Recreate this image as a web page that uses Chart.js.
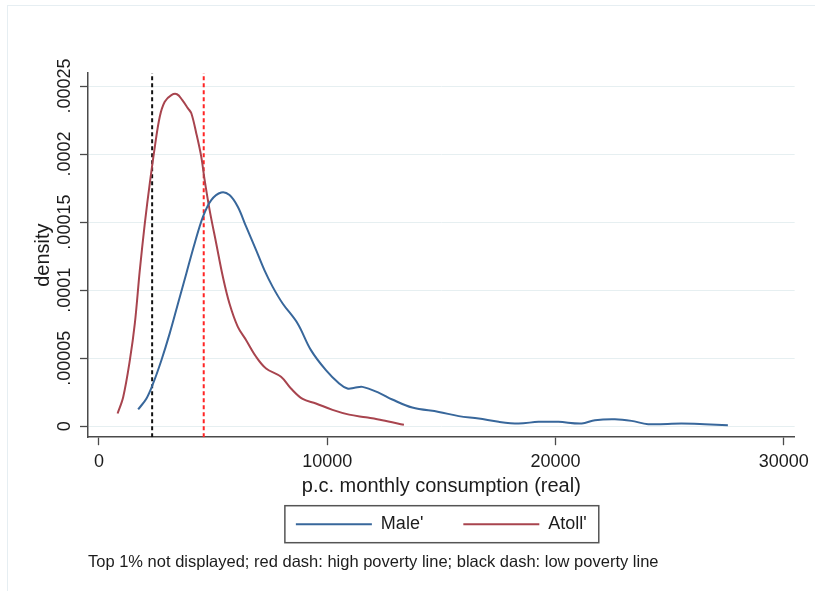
<!DOCTYPE html>
<html lang="en">
<head>
<meta charset="UTF-8">
<title>Densidad del consumo mensual</title>
<script src="https://cdn.jsdelivr.net/npm/chart.js"></script>
<style>
  body { margin: 0; background: #fff; }
  canvas { display: block; }
</style>
</head>
<body>
<canvas id="densidad" width="815" height="591"></canvas>
<script>
// ticks (Stata style labels)
const xTicks = [0, 10000, 20000, 30000];
const yTicks = [0, 0.00005, 0.0001, 0.00015, 0.0002, 0.00025];
const yTickLabels = ['0', '.00005', '.0001', '.00015', '.0002', '.00025'];

// kernel density - Male'
const maleX = [1718, 2082, 2373, 2736, 3100, 3463, 3828, 4192, 4555, 4920, 5358, 5721, 6083, 6449, 6886,
  7249, 7612, 8048, 8703, 9288, 9943, 10524, 10887, 11200, 11541, 12271, 12852, 13726, 14891, 15764,
  16638, 17511, 18384, 19258, 20131, 21150, 21733, 22606, 23333, 24061, 25516, 26536, 27555];
const maleY = [0.0000123, 0.0000204, 0.0000314, 0.0000485, 0.0000682, 0.0000902, 0.0001123, 0.0001343,
  0.0001539, 0.0001662, 0.0001718, 0.0001699, 0.0001613, 0.0001466, 0.0001294, 0.0001147, 0.0001024,
  0.0000902, 0.0000755, 0.0000559, 0.0000412, 0.0000314, 0.0000277, 0.0000282, 0.0000289, 0.0000245,
  0.0000196, 0.0000137, 0.0000105, 0.0000074, 0.0000056, 0.0000032, 0.0000020, 0.0000032, 0.0000032,
  0.0000020, 0.0000044, 0.0000051, 0.0000039, 0.0000015, 0.0000020, 0.0000015, 0.0000007];

// kernel density - Atoll'
const atollX = [816, 1063, 1354, 1572, 1790, 2009, 2227, 2445, 2664, 2882, 3173, 3419, 3653, 3900, 4047,
  4265, 4483, 4629, 4847, 5138, 5429, 5721, 6085, 6449, 6886, 7322, 7977, 8413, 8923, 9506, 10233,
  10961, 11689, 12415, 13362];
const atollY = [0.0000093, 0.0000215, 0.0000485, 0.0000755, 0.0001147, 0.000149, 0.0001785, 0.000205,
  0.0002275, 0.0002385, 0.0002434, 0.000244, 0.0002397, 0.0002336, 0.00023, 0.0002152, 0.000198,
  0.000181, 0.000159, 0.0001343, 0.0001098, 0.00009, 0.000073, 0.0000632, 0.000051, 0.0000424,
  0.0000363, 0.0000277, 0.00002, 0.0000167, 0.000012, 0.0000085, 0.0000065, 0.0000044, 0.000001];

// poverty lines
const lowPovertyLine = 2330;
const highPovertyLine = 4590;

const seriesNames = ["Male'", "Atoll'"];
const noteText = 'Top 1% not displayed; red dash: high poverty line; black dash: low poverty line';

// axis ranges
const xMin = -480, xMax = 30480;
const yMin = -0.0000081, yMax = 0.0002596;

const fuente = "'Liberation Sans', Arial, sans-serif";
const textColor = '#1c1c1c';
const axisColor = '#4a4a4a';

function toPoints(xs, ys) {
  return xs.map((x, i) => ({ x: x, y: ys[i] }));
}

// faint outline of the graph region
const graphRegion = {
  id: 'graphRegion',
  beforeDraw(chart) {
    const ctx = chart.ctx;
    ctx.save();
    ctx.strokeStyle = '#e6eef2';
    ctx.lineWidth = 1;
    ctx.strokeRect(7.5, 5.5, chart.width, chart.height);
    ctx.restore();
  }
};

// box round the legend
const legendFrame = {
  id: 'legendFrame',
  afterDraw(chart) {
    const boxes = chart.legend.legendHitBoxes;
    if (!boxes || !boxes.length) return;
    const left = Math.min(...boxes.map(b => b.left)) - 11;
    const right = Math.max(...boxes.map(b => b.left + b.width)) + 12;
    const mid = boxes[0].top + boxes[0].height / 2;
    const ctx = chart.ctx;
    ctx.save();
    ctx.strokeStyle = '#555';
    ctx.lineWidth = 1.5;
    ctx.strokeRect(left, mid - 18.5, right - left, 37);
    ctx.restore();
  }
};

const ctx = document.getElementById('densidad').getContext('2d');
const grafico = new Chart(ctx, {
  type: 'line',
  data: {
    datasets: [
      {
        label: seriesNames[0],
        data: toPoints(maleX, maleY),
        borderColor: '#38679b',
        backgroundColor: '#38679b',
        borderWidth: 2,
        pointRadius: 0,
        tension: 0.35,
        fill: false
      },
      {
        label: seriesNames[1],
        data: toPoints(atollX, atollY),
        borderColor: '#a8444e',
        backgroundColor: '#a8444e',
        borderWidth: 2,
        pointRadius: 0,
        tension: 0.35,
        fill: false
      },
      {
        label: 'high poverty line',
        data: [{ x: highPovertyLine, y: yMin }, { x: highPovertyLine, y: yMax }],
        borderColor: '#ff2424',
        borderWidth: 2,
        borderDash: [4, 3],
        pointRadius: 0
      },
      {
        label: 'low poverty line',
        data: [{ x: lowPovertyLine, y: yMin }, { x: lowPovertyLine, y: yMax }],
        borderColor: '#111',
        borderWidth: 2,
        borderDash: [4, 3],
        pointRadius: 0
      }
    ]
  },
  options: {
    responsive: false,
    animation: false,
    devicePixelRatio: 1,
    layout: { padding: { top: 73, right: 18, bottom: 19, left: 0 } },
    scales: {
      x: {
        type: 'linear',
        min: xMin,
        max: xMax,
        afterBuildTicks: s => { s.ticks = xTicks.map(v => ({ value: v })); },
        afterFit: s => { s.height = 38; },
        grid: { drawOnChartArea: false, tickLength: 8, tickColor: axisColor, tickWidth: 1.3 },
        border: { color: axisColor, width: 1.5 },
        ticks: {
          maxRotation: 0,
          padding: 6,
          color: textColor,
          font: { family: fuente, size: 18 },
          callback: v => String(v)
        },
        title: {
          display: true,
          text: 'p.c. monthly consumption (real)',
          color: textColor,
          font: { family: fuente, size: 20 },
          padding: { top: 0, bottom: -23 }
        }
      },
      y: {
        type: 'linear',
        min: yMin,
        max: yMax,
        afterBuildTicks: s => { s.ticks = yTicks.map(v => ({ value: v })); },
        afterFit: s => { s.width = 88; },
        grid: { color: '#e6eff1', lineWidth: 1, tickLength: 8, tickColor: axisColor, tickWidth: 1.3 },
        border: { color: axisColor, width: 1.5 },
        ticks: {
          minRotation: 90,
          maxRotation: 90,
          crossAlign: 'center',
          padding: -12.5,
          color: textColor,
          font: { family: fuente, size: 18 },
          callback: (v, i) => yTickLabels[i]
        },
        title: {
          display: true,
          text: 'density',
          color: textColor,
          font: { family: fuente, size: 20 },
          padding: { top: 31, bottom: 0 }
        }
      }
    },
    plugins: {
      legend: {
        position: 'bottom',
        fullSize: false,
        labels: {
          filter: item => item.datasetIndex < 2,
          usePointStyle: true,
          pointStyle: 'line',
          pointStyleWidth: 76,
          padding: 40,
          color: textColor,
          font: { family: fuente, size: 18 }
        }
      },
      subtitle: {
        display: true,
        text: noteText,
        position: 'bottom',
        align: 'start',
        fullSize: false,
        color: textColor,
        font: { family: fuente, size: 16.5, weight: 'normal' },
        padding: { top: 9, bottom: 0 }
      },
      tooltip: { enabled: false }
    }
  },
  plugins: [graphRegion, legendFrame]
});
</script>
</body>
</html>
